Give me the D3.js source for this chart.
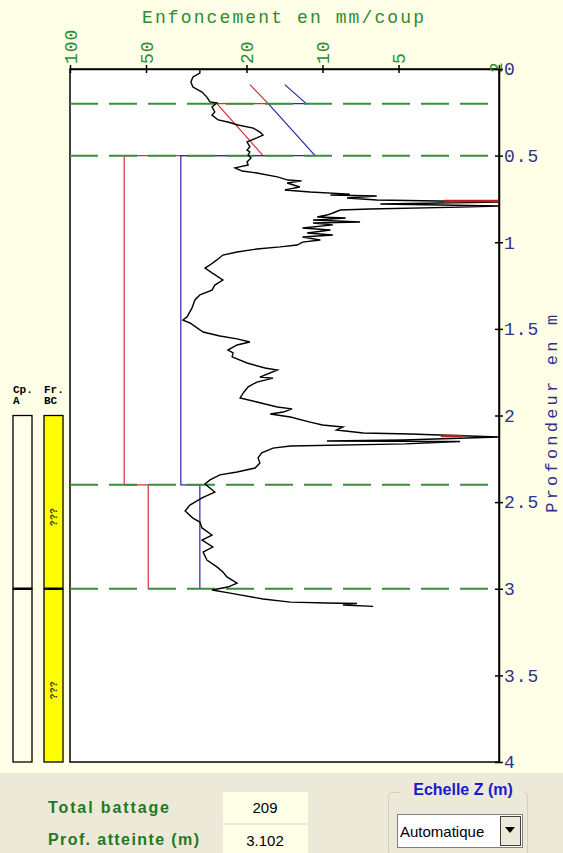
<!DOCTYPE html>
<html>
<head>
<meta charset="utf-8">
<script src="https://cdn.jsdelivr.net/npm/d3@7"></script>
<style>
  body { margin: 0; background: #ece9d8; }
  svg { display: block; }
  .mono { font-family: "Liberation Mono", "Courier New", monospace; }
  .sans { font-family: "Liberation Sans", Arial, sans-serif; }
</style>
</head>
<body>
<div id="chart"></div>
<script>
// axis ticks
const penTicks = [100, 50, 20, 10, 5, 2];
const depthTicks = [0, 0.5, 1, 1.5, 2, 2.5, 3, 3.5, 4];

// penetration curve (mm per blow vs depth in m)
const curveDepth = [0, 0.023, 0.046, 0.075, 0.104, 0.133, 0.162, 0.190, 0.196, 0.219, 0.248, 0.266, 0.294, 0.306, 0.323, 0.341, 0.364, 0.381, 0.398, 0.421, 0.450, 0.468, 0.479, 0.496, 0.514, 0.537, 0.554, 0.571, 0.589, 0.600, 0.623, 0.641, 0.646, 0.658, 0.681, 0.698, 0.710, 0.722, 0.727, 0.733, 0.745, 0.756, 0.768, 0.779, 0.791, 0.797, 0.808, 0.814, 0.831, 0.843, 0.854, 0.860, 0.872, 0.883, 0.889, 0.900, 0.918, 0.929, 0.947, 0.958, 0.970, 0.987, 0.999, 1.016, 1.027, 1.039, 1.056, 1.074, 1.102, 1.131, 1.149, 1.177, 1.218, 1.247, 1.276, 1.304, 1.333, 1.380, 1.431, 1.449, 1.466, 1.518, 1.541, 1.558, 1.576, 1.593, 1.622, 1.639, 1.662, 1.697, 1.726, 1.737, 1.778, 1.784, 1.807, 1.835, 1.870, 1.899, 1.922, 1.951, 1.962, 1.980, 1.991, 2.009, 2.038, 2.055, 2.066, 2.084, 2.101, 2.107, 2.124, 2.141, 2.147, 2.150, 2.164, 2.176, 2.188, 2.216, 2.245, 2.274, 2.303, 2.326, 2.343, 2.372, 2.395, 2.442, 2.476, 2.517, 2.551, 2.592, 2.615, 2.649, 2.690, 2.719, 2.759, 2.788, 2.834, 2.874, 2.903, 2.932, 2.967, 2.990, 3.007, 3.025, 3.059, 3.077, 3.082, 3.085, 3.094, 3.102];
const curvePen = [30.6, 30.6, 32.6, 33.2, 32.6, 30.0, 28.7, 27.9, 26.2, 27.4, 26.7, 27.4, 25.9, 23.7, 21.6, 18.8, 17.7, 17.2, 18.2, 19.9, 19.4, 19.9, 19.4, 19.7, 19.2, 19.9, 19.7, 22.2, 20.8, 18.2, 15.1, 13.7, 12.1, 13.8, 12.3, 14.1, 11.2, 7.8, 9.3, 6.1, 8.0, 6.1, 2.0, 5.9, 2.0, 2.85, 6.5, 8.5, 9.1, 9.6, 10.5, 8.1, 10.9, 7.1, 10.9, 9.1, 12.0, 9.3, 11.5, 9.1, 12.0, 10.2, 12.0, 12.6, 14.7, 18.2, 21.8, 24.8, 26.2, 27.9, 29.2, 27.4, 24.8, 26.7, 27.4, 30.6, 32.0, 32.9, 34.4, 35.7, 33.5, 29.7, 25.5, 21.8, 19.4, 21.8, 23.7, 22.6, 22.8, 19.9, 16.9, 15.1, 17.7, 15.7, 18.2, 19.7, 20.6, 21.2, 18.2, 15.1, 13.2, 14.3, 16.1, 13.4, 11.2, 10.0, 8.3, 8.8, 6.9, 4.5, 2.0, 4.8, 9.6, 2.85, 4.7, 13.4, 15.7, 17.4, 18.0, 17.7, 18.5, 21.8, 25.5, 27.9, 29.2, 26.7, 30.0, 33.5, 35.0, 32.6, 30.6, 30.0, 27.4, 30.0, 27.2, 29.7, 28.7, 26.2, 24.8, 23.9, 21.8, 23.7, 27.4, 23.2, 17.2, 13.4, 9.6, 7.3, 8.3, 6.3];

// red and blue step lines
const stepDepth = [0.09, 0.2, 0.2, 0.5, 0.5, 2.4, 2.4, 3.0];
const redPen = [19.4, 16.4, 26.2, 17.2, 61, 61, 49, 49];
const bluePen = [14.1, 11.6, 16.4, 10.7, 36.4, 36.4, 30.6, 30.6];

// red marks at refusal spikes
const spikeDepth = [0.768, 2.124];
const spikeFrom = [3.3, 3.4];
const spikeTo = [2, 2.8];

// layer limits (dashed lines)
const layerDepths = [0.2, 0.5, 2.4, 3.0];

// lithology columns
const columnNames = [["Cp.", "A"], ["Fr.", "BC"]];
const columnFill = ["#ffffec", "#ffff00"];
const columnBounds = [2, 3, 4];

const W = 563, H = 853;
const svg = d3.select("#chart").append("svg")
    .attr("width", W)
    .attr("height", H);

svg.append("rect").attr("width", W).attr("height", H).attr("fill", "#ece9d8");
svg.append("rect").attr("width", W).attr("height", 773).attr("fill", "#ffffe8");

const x = d3.scaleLog().domain([100, 2]).range([70, 499]);
const y = d3.scaleLinear().domain([0, 4]).range([69, 762]);

// plot area
svg.append("rect")
    .attr("x", x(100)).attr("y", y(0))
    .attr("width", x(2) - x(100)).attr("height", y(4) - y(0))
    .attr("fill", "#fff")
    .attr("stroke", "#000").attr("stroke-width", 1.5);

// step lines (under the dashes)
const line = d3.line().x(d => x(d[1])).y(d => y(d[0]));
svg.append("path")
    .attr("d", line(stepDepth.map((d, i) => [d, redPen[i]])))
    .attr("fill", "none").attr("stroke", "#d83030").attr("stroke-width", 1.2);
svg.append("path")
    .attr("d", line(stepDepth.map((d, i) => [d, bluePen[i]])))
    .attr("fill", "none").attr("stroke", "#2828b0").attr("stroke-width", 1.2);

// dashed layer limits
svg.selectAll(".limit")
    .data(layerDepths)
    .enter().append("line")
    .attr("class", "limit")
    .attr("x1", x(100)).attr("x2", x(2))
    .attr("y1", d => y(d)).attr("y2", d => y(d))
    .attr("stroke", "#3a8e3a").attr("stroke-width", 2)
    .attr("stroke-dasharray", "28,11");

// penetration curve
svg.append("path")
    .attr("d", line(curveDepth.map((d, i) => [d, curvePen[i]])))
    .attr("fill", "none").attr("stroke", "#000").attr("stroke-width", 1.4)
    .attr("stroke-linejoin", "miter");

svg.selectAll(".spike")
    .data(spikeDepth)
    .enter().append("line")
    .attr("class", "spike")
    .attr("x1", (d, i) => x(spikeFrom[i])).attr("x2", (d, i) => x(spikeTo[i]))
    .attr("y1", d => y(d) - 1).attr("y2", d => y(d) - 1)
    .attr("stroke", "#b82020").attr("stroke-width", 2.5);

// top axis
const topAxis = svg.append("g")
    .attr("transform", `translate(0,${y(0)})`)
    .call(d3.axisTop(x).tickValues(penTicks).tickFormat(d3.format("d")).tickSize(4).tickSizeOuter(0));
topAxis.select(".domain").attr("stroke", "#000").attr("stroke-width", 1.5);
topAxis.selectAll(".tick line").attr("y1", 4).attr("y2", -4).attr("stroke", "#000").attr("stroke-width", 1.5);
topAxis.selectAll(".tick text")
    .attr("class", "mono")
    .attr("transform", "rotate(-90)")
    .attr("text-anchor", "start")
    .attr("x", d => d === 2 ? -4 : 5)
    .attr("y", d => d === 2 ? -4 : 0)
    .attr("dy", "0.35em")
    .attr("fill", "#2e8b2e")
    .style("font-size", "18px")
    .style("letter-spacing", "1px");

// right axis
const rightAxis = svg.append("g")
    .attr("transform", `translate(${x(2)},0)`)
    .call(d3.axisRight(y).tickValues(depthTicks).tickFormat(d => d).tickSize(4).tickSizeOuter(0));
rightAxis.select(".domain").attr("stroke", "#000").attr("stroke-width", 1.5);
rightAxis.selectAll(".tick line").attr("x1", -4).attr("x2", 4).attr("stroke", "#000").attr("stroke-width", 1.5);
rightAxis.selectAll(".tick text")
    .attr("class", "mono")
    .attr("x", 5)
    .attr("fill", "#30308a")
    .style("font-size", "18px")
    .style("letter-spacing", "1px");

// axis titles
svg.append("text")
    .attr("class", "mono")
    .attr("x", 142).attr("y", 23)
    .attr("textLength", 282)
    .attr("fill", "#2e8b2e")
    .style("font-size", "18px")
    .text("Enfoncement en mm/coup");

svg.append("text")
    .attr("class", "mono")
    .attr("transform", `translate(557,${y(1.99)}) rotate(-90)`)
    .attr("text-anchor", "middle")
    .attr("textLength", 198)
    .attr("fill", "#30308a")
    .style("font-size", "17px")
    .text("Profondeur en m");

// lithology columns
const colX = [13, 44], colW = 19;
columnNames.forEach((names, c) => {
    svg.append("text").attr("class", "mono")
        .attr("x", colX[c]).attr("y", 393)
        .style("font-size", "11px").style("font-weight", "bold")
        .text(names[0]);
    svg.append("text").attr("class", "mono")
        .attr("x", colX[c]).attr("y", 404)
        .style("font-size", "11px").style("font-weight", "bold")
        .text(names[1]);
    for (let i = 0; i < columnBounds.length - 1; i++) {
        svg.append("rect")
            .attr("x", colX[c]).attr("y", y(columnBounds[i]))
            .attr("width", colW).attr("height", y(columnBounds[i + 1]) - y(columnBounds[i]))
            .attr("fill", columnFill[c]).attr("stroke", "#000").attr("stroke-width", 1.3);
        if (c === 1) {
            const mid = y((columnBounds[i] + columnBounds[i + 1]) / 2) + 15;
            svg.append("text").attr("class", "mono")
                .attr("transform", `translate(${colX[c] + colW / 2},${mid}) rotate(-90)`)
                .attr("text-anchor", "middle").attr("dy", "0.35em")
                .attr("fill", "#4a4020")
                .style("font-size", "10px")
                .style("font-weight", "bold")
                .text("???");
        }
    }
    svg.append("line")
        .attr("x1", colX[c]).attr("x2", colX[c] + colW)
        .attr("y1", y(columnBounds[1])).attr("y2", y(columnBounds[1]))
        .attr("stroke", "#000").attr("stroke-width", 2.5);
});

// bottom panel
svg.append("text").attr("class", "sans")
    .attr("x", 48).attr("y", 813)
    .attr("textLength", 121)
    .attr("fill", "#1e7a1e").style("font-size", "16px").style("font-weight", "bold")
    .text("Total battage");
svg.append("text").attr("class", "sans")
    .attr("x", 48).attr("y", 845)
    .attr("textLength", 151)
    .attr("fill", "#1e7a1e").style("font-size", "16px").style("font-weight", "bold")
    .text("Prof. atteinte (m)");

[["209", 792], ["3.102", 825]].forEach(([t, boxTop]) => {
    svg.append("rect").attr("x", 223).attr("y", boxTop).attr("width", 85).attr("height", 31)
        .attr("fill", "#ffffe8");
    svg.append("text").attr("class", "sans")
        .attr("x", 265).attr("y", boxTop + 21)
        .attr("text-anchor", "middle")
        .style("font-size", "15px")
        .text(t);
});

// Echelle Z group box
svg.append("rect").attr("x", 388.5).attr("y", 792.5).attr("width", 139).attr("height", 62)
    .attr("fill", "none").attr("stroke", "#d0d0bf").attr("stroke-width", 1)
    .attr("rx", 3);
svg.append("rect").attr("x", 400).attr("y", 780).attr("width", 124).attr("height", 18).attr("fill", "#ece9d8");
svg.append("text").attr("class", "sans")
    .attr("x", 463).attr("y", 795)
    .attr("text-anchor", "middle")
    .attr("fill", "#1a1ad0").style("font-size", "16px").style("font-weight", "bold")
    .text("Echelle Z (m)");
svg.append("rect").attr("x", 397.5).attr("y", 814.5).attr("width", 125).attr("height", 33)
    .attr("fill", "#fff").attr("stroke", "#808080");
svg.append("rect").attr("x", 500.5).attr("y", 816.5).attr("width", 20).attr("height", 29)
    .attr("fill", "#ece9d8").attr("stroke", "#404040");
svg.append("path").attr("d", "M505,827 L515,827 L510,833 Z").attr("fill", "#000");
svg.append("text").attr("class", "sans")
    .attr("x", 400).attr("y", 837)
    .style("font-size", "15px")
    .text("Automatique");
</script>
</body>
</html>
